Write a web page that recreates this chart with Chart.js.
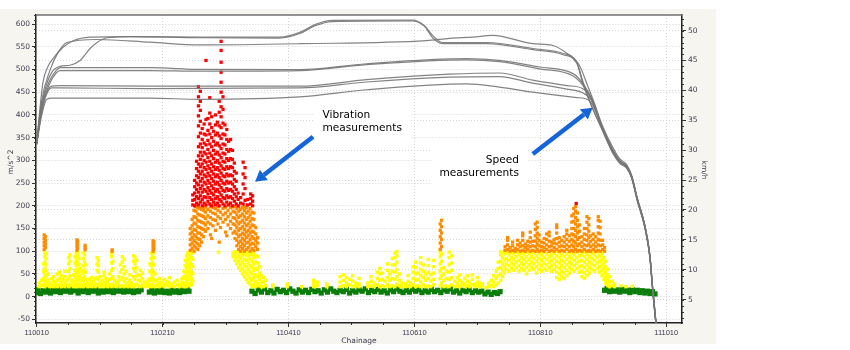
<!DOCTYPE html>
<html>
<head>
<meta charset="utf-8">
<title>Vibration and speed along chainage</title>
<script src="https://cdn.jsdelivr.net/npm/chart.js@4.4.1/dist/chart.umd.min.js"></script>
<style>
  html, body { margin: 0; padding: 0; background: #ffffff; }
  canvas { display: block; }
</style>
</head>
<body>
<canvas id="chainageChart" width="850" height="350"></canvas>
<script>
// axis ticks
const chainageTicks = [110010, 110210, 110410, 110610, 110810, 111010];
const accelTicks = [-50, 0, 50, 100, 150, 200, 250, 300, 350, 400, 450, 500, 550, 600];
const speedTicks = [5, 10, 15, 20, 25, 30, 35, 40, 45, 50];

// vibration (m/s^2), green band: [chainage, value]
const greenPoints = [
  [110009,9],[110012,15],[110016,7],[110020,13],[110024,10],[110028,16],[110032,8],[110036,14],[110040,11],[110044,17],
  [110048,9],[110052,15],[110056,12],[110060,18],[110064,10],[110068,16],[110072,13],[110076,8],[110080,15],[110084,11],
  [110088,17],[110092,9],[110096,14],[110100,12],[110104,16],[110108,8],[110112,13],[110116,10],[110120,17],[110124,11],
  [110128,15],[110132,9],[110136,14],[110140,12],[110144,18],[110148,10],[110152,15],[110156,11],[110160,16],[110164,9],
  [110168,13],[110172,11],[110176,15],[110189,10],[110193,14],[110197,8],[110201,13],[110205,10],[110209,15],[110213,9],
  [110217,12],[110221,8],[110225,14],[110229,10],[110233,13],[110237,9],[110241,15],[110245,11],[110249,17],[110252,12],
  [110352,12],[110357,7],[110362,15],[110367,10],[110372,17],[110377,9],[110382,13],[110387,8],[110392,16],[110397,11],
  [110402,14],[110407,9],[110412,17],[110417,12],[110422,8],[110427,15],[110432,10],[110437,14],[110442,9],[110447,16],
  [110452,11],[110457,13],[110462,8],[110467,15],[110472,10],[110477,17],[110482,12],[110487,9],[110492,14],[110497,11],
  [110502,16],[110507,8],[110512,13],[110517,10],[110522,15],[110527,12],[110532,17],[110537,9],[110542,14],[110547,11],
  [110552,16],[110557,10],[110562,13],[110567,8],[110572,15],[110577,11],[110582,17],[110587,12],[110592,9],[110597,14],
  [110602,10],[110607,16],[110612,12],[110617,15],[110622,9],[110627,13],[110632,10],[110637,16],[110642,11],[110647,14],
  [110652,9],[110657,15],[110662,12],[110667,17],[110672,10],[110677,13],[110682,8],[110687,14],[110692,11],[110697,15],
  [110702,9],[110707,13],[110712,10],[110717,12],[110722,6],[110727,10],[110732,5],[110737,9],[110742,7],[110746,11],
  [110912,14],[110916,18],[110920,11],[110924,16],[110928,12],[110932,15],[110936,10],[110940,16],[110944,12],[110948,14],
  [110952,9],[110956,15],[110960,11],[110964,14],[110968,9],[110972,13],[110976,8],[110980,12],[110984,7],[110988,11],
  [110992,6]
];

// yellow, orange and red readings: [chainage, [values]]
const yellowColumns = [
  [110014,[22,30]],[110018,[24,36]],[110021,[26,40,56,72]],[110023,[22,34,48,62,76,88,97]],[110025,[28,44,58,70,84,94]],
  [110028,[24,36,50]],[110031,[22,30]],[110034,[26,40]],[110037,[22,34,44]],[110040,[24,30]],[110043,[22,36,50]],
  [110046,[26,40,54]],[110049,[22,32,46]],[110052,[24,38]],[110055,[22,30,44,56]],[110058,[26,36]],
  [110061,[22,40,56,72,86]],[110063,[28,46,62,78,92]],[110066,[24,36]],[110069,[22,32,48]],[110071,[26,42,58,74,88]],
  [110073,[22,36,52,68,82,96]],[110075,[28,44,60,76,90,98]],[110077,[24,38,54,70,84]],[110079,[22,32,46,62]],
  [110082,[26,40,56]],[110084,[22,36,52,68,84,96]],[110086,[28,44,60,76,92]],[110088,[24,38,54,70]],[110091,[22,30]],
  [110094,[26,38]],[110097,[22,30,42]],[110100,[24,34]],[110103,[22,28,40]],[110106,[26,42,58,72,86]],
  [110108,[24,38,54,68,80]],[110111,[22,30,44]],[110114,[26,36]],[110117,[22,32,46,54]],[110120,[24,30,40]],
  [110123,[22,34]],[110126,[26,38,50]],[110129,[22,40,58,74,88,96]],[110131,[28,44,62,78]],[110134,[24,36]],
  [110137,[22,30]],[110140,[26,34,44]],[110143,[22,38,54,70]],[110146,[24,42,60,76,88]],[110149,[22,34,50,66,82]],
  [110152,[26,40,56]],[110155,[22,30]],[110158,[24,36,48]],[110161,[22,30]],[110164,[26,44,62,78,90]],
  [110166,[22,38,56,72,86]],[110169,[28,46,64,80]],[110172,[24,36,48]],[110175,[22,34,46,58]],[110178,[26,40,52]],
  [110181,[22,32]],[110184,[24,30]],[110187,[22,28,36]],[110190,[26,40,56,72]],[110192,[22,36,52,68,84,96]],
  [110194,[28,44,60,76,90]],[110196,[24,38,54,70,86,97]],[110198,[22,34,50]],[110201,[26,36]],[110205,[22,30,40]],
  [110209,[24,32]],[110213,[22,28,38]],[110217,[26,34]],[110221,[22,30,42]],[110225,[24,28]],[110229,[22,32]],
  [110233,[26,36]],[110237,[22,28]],[110241,[24,32,40]],[110244,[22,30,44,56]],[110246,[26,40,54,68,80]],
  [110248,[22,34,48,62,76,90]],[110250,[28,42,56,70,84,96]],[110252,[24,38,52,66,80,94]],[110254,[30,46,60,74,88,99]],
  [110256,[26,40,54,70,86,98]],[110258,[34,50,66,82,96]],[110299,[98]],
  [110322,[88,96]],[110325,[80,92,99]],[110328,[72,86,97]],[110331,[64,78,90,99]],[110334,[58,70,84,96]],
  [110337,[50,62,76,90,98]],[110340,[44,56,70,82,94]],[110343,[38,52,66,80,92,99]],[110346,[32,46,60,74,88,97]],
  [110349,[28,40,54,68,82,94]],[110352,[22,36,50,64,78,92,99]],[110355,[26,42,58,72,86,96]],[110358,[22,34,48,62,76,90]],
  [110361,[28,44,60,74,88]],[110364,[24,38,52,66]],[110367,[22,32,46]],
  [110370,[22,32,42]],[110374,[24,36]],[110385,[22,26]],[110408,[22,28]],[110431,[22]],[110450,[22,30,36]],
  [110456,[24,32]],[110471,[22,28]],[110492,[22,32,44]],[110497,[24,36,48]],[110502,[22,30,42]],[110507,[26,38]],
  [110512,[22,34,46]],[110517,[24,30]],[110522,[22,28,40]],[110536,[22,30]],[110541,[24,34,44]],[110546,[22,30]],
  [110551,[26,40,54]],[110555,[22,36,50,62]],[110559,[24,38,52]],[110563,[22,34]],[110567,[26,42,58,72]],
  [110571,[22,36,50]],[110575,[24,40,56,70,84]],[110579,[22,38,54,70,86,96]],[110582,[28,44,60,76,90,99]],
  [110586,[24,36,50]],[110590,[22,30]],[110596,[22,28]],[110600,[24,34,46]],[110604,[22,30]],[110608,[26,40,54,66]],
  [110612,[22,36,50,64,76]],[110616,[24,38,52]],[110620,[22,32,46,60,74,86]],[110624,[26,42,56,70]],
  [110628,[22,36,50]],[110632,[24,40,54,68,82]],[110636,[22,34,48]],[110640,[26,38,52,66,80]],
  [110651,[24,40,56,72,88,98]],[110653,[30,46,62,78,94]],[110657,[22,36,50,64]],[110661,[24,40,56]],
  [110665,[22,38,54,70,86,98]],[110669,[26,42,58,74,90]],[110674,[22,34]],[110678,[24,30,42]],[110682,[22,36,48]],
  [110686,[26,32]],[110690,[22,28,40]],[110694,[24,34,46]],[110698,[22,30]],[110702,[26,38,48]],[110706,[22,28]],
  [110710,[24,32,42]],[110714,[22,30]],[110718,[24,28]],[110724,[20]],[110728,[22,30]],[110732,[24,36]],
  [110736,[22,32,46]],[110740,[26,40,56]],[110743,[30,46,62,76]],
  [110747,[36,50,64,78,92,99]],[110750,[44,58,72,86,97]],[110753,[52,66,80,94,100]],[110756,[60,72,84,96]],
  [110760,[56,68,80,92,100]],[110764,[62,74,86,97]],[110768,[58,70,82,94,100]],[110772,[64,76,88,98]],
  [110776,[56,68,80,92,100]],[110780,[62,74,86,96]],[110784,[58,70,82,94,100]],[110788,[50,64,76,88,98]],
  [110792,[58,70,82,94,100]],[110796,[64,76,88,98]],[110800,[60,72,84,96]],[110804,[52,66,78,90,100]],
  [110808,[60,72,84,96]],[110812,[56,68,80,92,100]],[110816,[62,74,86,98]],[110820,[58,70,82,94]],
  [110824,[64,76,88,100]],[110828,[56,68,80,92]],[110832,[60,72,84,96]],[110836,[42,54,66,78,90,100]],
  [110840,[38,50,62,74,86,98]],[110844,[44,56,68,80,92]],[110848,[40,52,64,76,88,100]],[110852,[46,58,70,82,94]],
  [110856,[52,64,76,88,98]],[110860,[60,72,84,96]],[110864,[56,68,80,92,100]],[110868,[62,74,86,98]],
  [110872,[54,66,78,90]],[110876,[44,56,68,80,92,100]],[110880,[40,52,64,76,88,98]],[110884,[46,58,70,82,94]],
  [110888,[52,64,76,88,100]],[110892,[60,72,84,96]],[110896,[56,68,80,92,100]],[110900,[62,74,86,98]],
  [110904,[54,66,78,90]],[110908,[46,58,70,82,94,100]],[110911,[38,50,62,74,86]],[110914,[30,42,54,66,78]],
  [110917,[24,36,48,60]],[110920,[22,32,44]],[110924,[24,34]],[110928,[22,28]],[110938,[24]],[110946,[22]],[110956,[23]]
];

const orangeColumns = [
  [110022,[104,112,120,128,136]],[110024,[108,116,124,132]],[110074,[102,110,118,125]],[110075,[106,114,122]],
  [110087,[103,108,113]],[110130,[100,103]],[110195,[100,106,112,118,123]],[110196,[104,110,116,121]],
  [110254,[102,114,126,138,150]],[110257,[106,118,130,142,156,170]],[110260,[100,112,124,136,148,162,176,190]],
  [110263,[108,120,132,146,160,174,188,198]],[110266,[104,116,128,140,154,168,182,196]],
  [110269,[112,126,140,152,166,180,194]],[110272,[120,136,150,164,178,192]],[110275,[132,148,162,176,190,198]],
  [110278,[144,158,172,186,197]],[110282,[150,164,178,192]],[110286,[136,160,174,188,198]],[110288,[128]],
  [110290,[156,170,184,196]],[110294,[146,168,182,194]],[110298,[160,176,190,198]],[110300,[120]],
  [110302,[152,172,186]],[110306,[164,180,194]],[110310,[142,170,184,197]],[110312,[134]],[110314,[158,176,190]],
  [110318,[150,166,182,196]],[110322,[140,160,174,188,198]],[110325,[128,144,158,172,186,198]],
  [110328,[112,124,138,152,166,180,194]],[110331,[104,118,132,146,160,174,188,198]],
  [110334,[100,110,122,136,150,164,178,192]],[110337,[106,116,128,140,154,168,182,196]],
  [110340,[100,112,124,136,148,162,176,190,198]],[110343,[104,118,130,142,156,170,184,196]],
  [110346,[108,120,134,146,160,174,188]],[110349,[100,114,126,140,152,166,180,194]],
  [110352,[106,118,132,144,158,172,186]],[110355,[102,116,128,142,156,170,184]],[110358,[110,124,138,152]],
  [110361,[104,118,130]],
  [110651,[104,118,132,146,160]],[110653,[110,126,140,154,168]],
  [110754,[102,110]],[110758,[104,114,124,130]],[110762,[100,108]],[110766,[102,112,120]],[110770,[100,106]],
  [110774,[104,114,124]],[110778,[100,110,118]],[110782,[102,112,124,134,140]],[110786,[100,108,116]],
  [110790,[104,112,122]],[110794,[100,110,120,130,142]],[110798,[102,112,122]],[110802,[100,110,122,134,148,160]],
  [110805,[104,116,128,140,152,164]],[110808,[100,112,124,136]],[110812,[102,110,120]],[110816,[100,108,118,128]],
  [110820,[104,114,126,138]],[110824,[100,110,122,134,142]],[110828,[102,112,120]],[110832,[100,108,118,126]],
  [110836,[104,116,128,140,152,158]],[110840,[100,110,120,130]],[110844,[102,112,124]],[110848,[100,110,120,132]],
  [110852,[104,114,126,138,146]],[110856,[100,110,122,134]],[110860,[102,114,126,138,150,164,178]],
  [110863,[100,110,122,136,150,166,182,194]],[110866,[104,118,132,146,160,174,188,198]],
  [110869,[100,112,126,140,154,168,184]],[110872,[102,116,130,144,158]],[110876,[100,110,120,132]],
  [110880,[104,114,126,138,150]],[110884,[100,112,124,136,150,164,176]],[110887,[102,116,130,144,158,172]],
  [110890,[100,110,122,134]],[110894,[104,114,126,138]],[110898,[100,110,120,132]],
  [110902,[102,114,126,140,154,168,176]],[110905,[100,112,124,138,152,166]],[110909,[104,114,124]],[110912,[100,108]]
];

const redColumns = [
  [110258,[202,212,224]],[110261,[200,214,228,242,256]],[110264,[206,220,236,250,266,282,298]],
  [110267,[202,216,230,246,262,276,292,310,330,352,376,398,420,440,462]],
  [110270,[208,222,238,254,270,286,302,318,336,360,386,410,430,452]],
  [110273,[200,214,230,244,260,276,292,310,328,346,370]],
  [110276,[206,220,236,252,268,284,300,318,338,358,380]],
  [110279,[202,218,232,248,264,280,296,314,334,356,390,520]],
  [110282,[210,226,240,256,272,288,306,324,344,366,392]],
  [110285,[204,218,234,250,266,282,298,316,336,358,380,404,438]],
  [110288,[200,214,228,244,260,276,292,310,330,350,372,396]],
  [110291,[208,224,238,254,270,286,304,322,342,364]],
  [110294,[202,216,232,248,264,280,296,314,334,356,378,400]],
  [110297,[206,220,236,252,268,284,300,318,338,360,384]],
  [110300,[200,214,230,246,262,278,294,312,332,354,376,406,430]],
  [110303,[210,224,240,256,272,288,306,326,348,372,396,418,450,472,494,516,542,562]],
  [110306,[204,218,234,250,266,282,298,316,336,358,382,412,440]],
  [110309,[200,216,232,248,264,280,296,314,334,356,378]],
  [110312,[208,222,238,254,270,286,304,324,346,368]],
  [110315,[202,218,234,250,266,282,300,320,342]],
  [110318,[206,220,236,252,268,286,304,324,346]],
  [110321,[200,216,232,248,266,284,302,322]],
  [110324,[210,226,242,258,276,294]],[110327,[204,220,236,254,272]],[110330,[200,214,228]],
  [110334,[206,218]],[110338,[204,226,248,270,296]],[110341,[212,238,262,284]],[110345,[202,214]],
  [110350,[204,216,226]],[110353,[200,210,222]],[110867,[205]]
];

// speed runs (km/h): [chainage, speed]
const speedRun1 = [
  [110010,31],[110015,36.7],[110020,41.3],[110028,44],[110036,45.3],[110052,47.2],[110068,48.3],[110095,48.9],
  [110158,49],[110269,48.9],[110396,48.9],[110428,49.7],[110452,51],[110480,51.7],[110607,51.75],[110626,50.8],
  [110639,49.2],[110655,48],[110725,48],[110798,47],[110845,46.2],[110868,44.7],[110877,41.7],[110888,38.3],
  [110909,33.3],[110925,29.7],[110936,28],[110947,27.2],[110955,25.5],[110964,21.7],[110976,17.2],[110984,12.2],
  [110988,7.2],[110993,1.7],[110996,-1]
];
const speedRun2 = [
  [110010,31],[110015,35.8],[110023,40],[110034,43],[110047,44],[110063,44.2],[110079,45],[110095,47],[110106,48],
  [110122,48.8],[110158,49],[110269,48.8],[110396,48.75],[110428,49.5],[110452,50.8],[110480,51.5],[110607,51.6],
  [110626,50.7],[110639,48.8],[110655,47.8],[110725,47.8],[110798,46.8],[110845,46],[110868,44.5],[110877,41.3],
  [110888,38.2],[110909,33.2],[110925,29.5],[110936,27.8],[110947,27],[110955,25.3],[110964,21.5],[110976,17],
  [110984,12],[110988,7],[110993,1.5],[110996,-1]
];
const speedRun3 = [
  [110010,31],[110018,38.3],[110031,43.3],[110044,46.3],[110058,48],[110106,48.5],[110190,48.05],[110269,47.6],
  [110428,47.8],[110629,48.3],[110666,48.7],[110703,48.9],[110734,49.2],[110798,47.8],[110830,47.5],[110852,46.2],
  [110872,44.2],[110885,40.8],[110896,37.8],[110909,34],[110925,30.5],[110936,28.6],[110947,27.6],[110955,25.8],
  [110964,22],[110976,17.5],[110984,12.5],[110988,7.5],[110993,2],[110996,-1]
];
const speedRun4 = [
  [110010,31],[110018,37.5],[110031,41.7],[110041,43.3],[110047,43.8],[110190,43.8],[110269,43.5],[110428,43.45],
  [110534,44.45],[110693,45.3],[110745,45],[110809,43.9],[110862,42.8],[110880,40.8],[110893,38.3],[110909,33.6],
  [110925,30],[110936,28.2],[110947,27.3],[110955,25.6],[110964,21.8],[110976,17.3],[110984,12.3],[110988,7.3],
  [110993,1.8],[110996,-1]
];
const speedRun5 = [
  [110010,31],[110018,37],[110031,41.2],[110041,42.9],[110047,43.3],[110190,43.3],[110269,43.2],[110428,43.3],
  [110534,44.3],[110693,45.1],[110745,44.8],[110809,43.6],[110862,42.4],[110880,40.5],[110893,38],[110909,33.4],
  [110925,29.8],[110936,28.1],[110947,27.2],[110955,25.5],[110964,21.6],[110976,17.1],[110984,12.1],[110988,7.1],
  [110993,1.6],[110996,-1]
];
const speedRun6 = [
  [110010,31],[110018,36.7],[110026,39.7],[110034,40.7],[110047,40.8],[110190,40.7],[110428,40.7],[110534,41.8],
  [110666,42.7],[110745,42.9],[110798,41.7],[110852,40.8],[110877,40.3],[110891,38.7],[110909,33.5],[110925,29.9],
  [110936,28.1],[110947,27.2],[110955,25.5],[110964,21.7],[110976,17.2],[110984,12.2],[110988,7.2],[110993,1.7],
  [110996,-1]
];
const speedRun7 = [
  [110010,31],[110018,36.4],[110026,39.4],[110034,40.4],[110047,40.4],[110190,40.3],[110428,40.4],[110534,41.4],
  [110666,42.2],[110745,42.3],[110798,41.2],[110852,40.2],[110877,39.6],[110891,38.4],[110909,33.7],[110925,30.1],
  [110936,28.3],[110947,27.4],[110955,25.7],[110964,21.9],[110976,17.4],[110984,12.4],[110988,7.4],[110993,1.9],
  [110996,-1]
];
const speedRun8 = [
  [110010,31],[110018,35.8],[110026,38.5],[110034,38.7],[110190,38.7],[110269,38.5],[110428,38.9],[110534,40.1],
  [110693,41.1],[110745,40.55],[110798,39.7],[110868,38.8],[110888,38.3],[110909,33.6],[110925,30],[110936,28.2],
  [110947,27.3],[110955,25.6],[110964,21.8],[110976,17.3],[110984,12.3],[110988,7.3],[110993,1.8],[110996,-1]
];

const notes = [
  { lines: ['Vibration', 'measurements'], x: 110464, y: 400, align: 'left' },
  { lines: ['Speed', 'measurements'], x: 110776, y: 301, align: 'right' }
];
const arrows = [
  { from: [110449, 352], to: [110357, 253] },
  { from: [110798, 314], to: [110893, 416] }
];

function pairsToPoints(pairs) {
    return pairs.map(p => ({ x: p[0], y: p[1] }));
}

function columnsToPoints(cols) {
    const pts = [];
    cols.forEach(col => {
        col[1].forEach(v => pts.push({ x: col[0], y: v }));
    });
    return pts;
}

function speedDataset(run) {
    return {
        data: pairsToPoints(run),
        yAxisID: 'ySpeed',
        showLine: true,
        borderColor: 'rgba(118,118,118,0.9)',
        borderWidth: 1.2,
        pointRadius: 0,
        cubicInterpolationMode: 'monotone',
        fill: false
    };
}

function vibrationDataset(points, color, size) {
    return {
        data: points,
        yAxisID: 'y',
        pointStyle: 'rect',
        pointRadius: size,
        pointBorderWidth: 0,
        backgroundColor: color,
        borderColor: color,
        showLine: false
    };
}

const fontFamily = '"DejaVu Sans", Verdana, sans-serif';
const yTickFont = { family: fontFamily, size: 7.5 };
const xTickFont = { family: '"Liberation Sans", Arial, sans-serif', size: 7.5 };
const tickColor = '#3b3b4f';
const gridColor = '#d4d4d4';

const backdrop = {
    id: 'backdrop',
    beforeDraw(chart) {
        const { ctx, chartArea: a } = chart;
        ctx.save();
        ctx.fillStyle = '#ffffff';
        ctx.fillRect(0, 0, chart.width, chart.height);
        ctx.fillStyle = '#f6f5ef';
        ctx.fillRect(0, 9, 716, 335);
        ctx.fillStyle = '#ffffff';
        ctx.fillRect(a.left, a.top, a.right - a.left, a.bottom - a.top);
        ctx.restore();
    }
};

function drawArrow(ctx, x1, y1, x2, y2) {
    const ang = Math.atan2(y2 - y1, x2 - x1);
    const head = 11;
    const bx = x2 - head * Math.cos(ang);
    const by = y2 - head * Math.sin(ang);
    ctx.strokeStyle = '#1565d8';
    ctx.fillStyle = '#1565d8';
    ctx.lineWidth = 4.5;
    ctx.beginPath();
    ctx.moveTo(x1, y1);
    ctx.lineTo(bx, by);
    ctx.stroke();
    ctx.beginPath();
    ctx.moveTo(x2, y2);
    ctx.lineTo(bx + 6.5 * Math.sin(ang), by - 6.5 * Math.cos(ang));
    ctx.lineTo(bx - 6.5 * Math.sin(ang), by + 6.5 * Math.cos(ang));
    ctx.closePath();
    ctx.fill();
}

const extras = {
    id: 'extras',
    afterDatasetsDraw(chart) {
        const { ctx, scales } = chart;
        const xs = scales.x, ys = scales.y;
        ctx.save();
        ctx.font = '10.6px ' + fontFamily;
        ctx.textBaseline = 'middle';
        notes.forEach(n => {
            const px = xs.getPixelForValue(n.x);
            const py = ys.getPixelForValue(n.y);
            const w = Math.max(...n.lines.map(l => ctx.measureText(l).width));
            const left = n.align === 'left' ? px : px - w;
            ctx.fillStyle = '#ffffff';
            ctx.fillRect(left - 8, py - 11, w + 16, n.lines.length * 13 + 9);
            ctx.fillStyle = '#000000';
            ctx.textAlign = n.align;
            n.lines.forEach((l, i) => ctx.fillText(l, px, py + i * 13));
        });
        arrows.forEach(a => {
            drawArrow(ctx,
                xs.getPixelForValue(a.from[0]), ys.getPixelForValue(a.from[1]),
                xs.getPixelForValue(a.to[0]), ys.getPixelForValue(a.to[1]));
        });
        ctx.restore();
    },
    afterDraw(chart) {
        const { ctx, chartArea: a, scales } = chart;
        ctx.save();
        // top frame line
        ctx.strokeStyle = '#6f6f6f';
        ctx.lineWidth = 1.5;
        ctx.beginPath();
        ctx.moveTo(a.left, a.top);
        ctx.lineTo(a.right, a.top);
        ctx.stroke();

        // minor ticks
        ctx.strokeStyle = '#333333';
        ctx.lineWidth = 1;
        ctx.beginPath();
        for (let v = -50; v <= 620; v += 10) {
            const py = Math.round(scales.y.getPixelForValue(v)) + 0.5;
            ctx.moveTo(a.left - 2, py);
            ctx.lineTo(a.left, py);
        }
        for (let v = 2; v <= 52; v += 1) {
            const py = Math.round(scales.ySpeed.getPixelForValue(v)) + 0.5;
            ctx.moveTo(a.right, py);
            ctx.lineTo(a.right + 2, py);
        }
        for (let v = 110060; v <= 111010; v += 50) {
            const px = Math.round(scales.x.getPixelForValue(v)) + 0.5;
            ctx.moveTo(px, a.bottom);
            ctx.lineTo(px, a.bottom + 2);
        }
        ctx.stroke();

        // axis titles
        ctx.fillStyle = tickColor;
        ctx.font = '7.5px ' + fontFamily;
        ctx.textAlign = 'center';
        ctx.textBaseline = 'middle';
        ctx.fillText('Chainage', (a.left + a.right) / 2, 341);
        ctx.translate(11, 162);
        ctx.rotate(-Math.PI / 2);
        ctx.fillText('m/s^2', 0, 0);
        ctx.restore();
        ctx.save();
        ctx.fillStyle = tickColor;
        ctx.font = '7.5px ' + fontFamily;
        ctx.textAlign = 'center';
        ctx.textBaseline = 'middle';
        ctx.translate(704, 170);
        ctx.rotate(Math.PI / 2);
        ctx.fillText('km/h', 0, 0);
        ctx.restore();
    }
};

const speedRuns = [speedRun1, speedRun2, speedRun3, speedRun4, speedRun5, speedRun6, speedRun7, speedRun8];

const datasets = speedRuns.map(speedDataset);
datasets.push(vibrationDataset(columnsToPoints(redColumns), '#ff0000', 2.3));
datasets.push(vibrationDataset(columnsToPoints(orangeColumns), '#ff8c00', 2.3));
datasets.push(vibrationDataset(columnsToPoints(yellowColumns), '#ffff00', 2.4));
datasets.push(vibrationDataset(pairsToPoints(greenPoints), '#0b7d0b', 3.7));

const ctx = document.getElementById('chainageChart').getContext('2d');
const chainageChart = new Chart(ctx, {
    type: 'scatter',
    data: { datasets: datasets },
    options: {
        responsive: false,
        animation: false,
        events: [],
        layout: { padding: { top: 15, right: 128, bottom: 0, left: 0 } },
        plugins: { legend: { display: false }, tooltip: { enabled: false } },
        scales: {
            x: {
                type: 'linear',
                min: 110009,
                max: 111035,
                afterBuildTicks: s => { s.ticks = chainageTicks.map(v => ({ value: v })); },
                afterFit: s => { s.height = 27; },
                ticks: { font: xTickFont, color: tickColor, padding: 1, maxRotation: 0, autoSkip: false,
                    callback: v => String(v) },
                grid: { color: gridColor, tickColor: '#333333', tickLength: 4 },
                border: { color: '#222222', width: 1.5, dash: [1, 2] }
            },
            y: {
                position: 'left',
                min: -58,
                max: 620,
                afterBuildTicks: s => { s.ticks = accelTicks.map(v => ({ value: v })); },
                afterFit: s => { s.width = 36; },
                ticks: { font: yTickFont, color: tickColor, padding: 2 },
                grid: { color: gridColor, tickColor: '#333333', tickLength: 4 },
                border: { color: '#222222', width: 1.5, dash: [1, 2] }
            },
            ySpeed: {
                position: 'right',
                min: 1.1,
                max: 52.6,
                afterBuildTicks: s => { s.ticks = speedTicks.map(v => ({ value: v })); },
                afterFit: s => { s.width = 40; },
                ticks: { font: yTickFont, color: tickColor, padding: 2 },
                grid: { color: gridColor, tickColor: '#333333', tickLength: 4 },
                border: { color: '#222222', width: 1.5, dash: [1, 2] }
            }
        }
    },
    plugins: [backdrop, extras]
});
</script>
</body>
</html>
